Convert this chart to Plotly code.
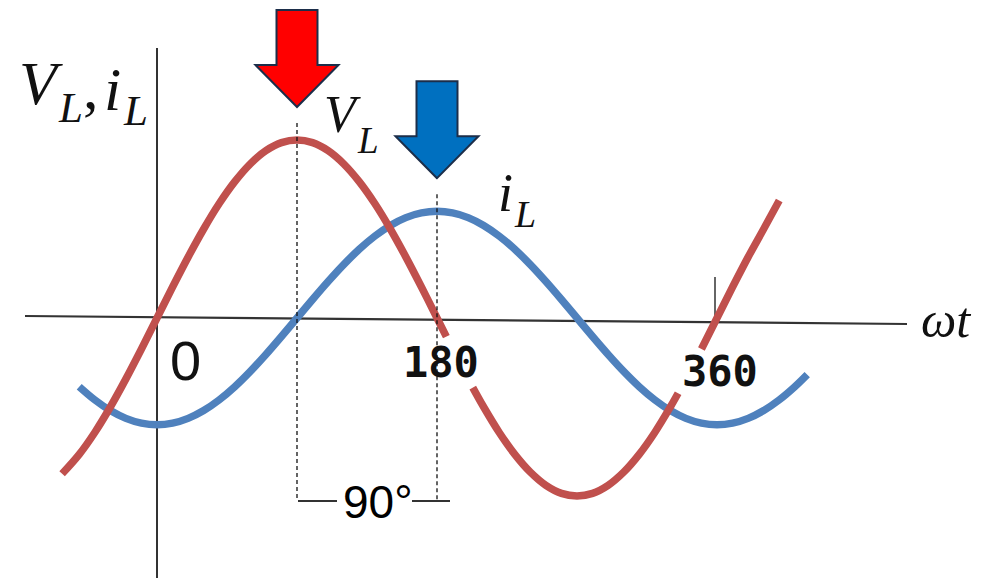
import plotly.graph_objects as go

# Phase angle (degrees) and inductor voltage, normalised to its peak.
# None entries leave gaps where the 180 / 360 labels sit.
theta_v = [-61, -50, -40, -30, -20, -10, 0, 10, 20, 30, 40, 50, 60, 70, 80, 90,
           100, 110, 120, 130, 140, 150, 160, 170, 180, 186, None,
           203, 210, 220, 230, 240, 250, 260, 270, 280, 290, 300, 310, 320, 330, 335, None,
           350, 360, 370, 380, 390, 400]
v_l = [-0.875, -0.766, -0.643, -0.500, -0.342, -0.174, 0.000, 0.174, 0.342, 0.500, 0.643, 0.766, 0.866, 0.940, 0.985, 1.000,
       0.985, 0.940, 0.866, 0.766, 0.643, 0.500, 0.342, 0.174, 0.000, -0.105, None,
       -0.391, -0.500, -0.643, -0.766, -0.866, -0.940, -0.985, -1.000, -0.985, -0.940, -0.866, -0.766, -0.643, -0.500, -0.423, None,
       -0.174, 0.000, 0.174, 0.342, 0.500, 0.660]

# Phase angle (degrees) and inductor current on the same scale
theta_i = [-50, -40, -30, -20, -10, 0, 10, 20, 30, 40, 50, 60, 70, 80, 90,
           100, 110, 120, 130, 140, 150, 160, 170, 180, 190, 200, 210, 220, 230, 240,
           250, 260, 270, 280, 290, 300, 310, 320, 330, 340, 350, 360,
           370, 380, 390, 400, 410, 418]
i_l = [-0.386, -0.460, -0.520, -0.564, -0.591, -0.600, -0.591, -0.564, -0.520, -0.460, -0.386, -0.300, -0.205, -0.104, 0.000,
       0.104, 0.205, 0.300, 0.386, 0.460, 0.520, 0.564, 0.591, 0.600, 0.591, 0.564, 0.520, 0.460, 0.386, 0.300,
       0.205, 0.104, 0.000, -0.104, -0.205, -0.300, -0.386, -0.460, -0.520, -0.564, -0.591, -0.600,
       -0.591, -0.564, -0.520, -0.460, -0.386, -0.318]

angle_ticks = ["0", "180", "360"]
phase_label = "90°"

W, H = 984, 580
ORIGIN = (157, 318)          # pixel position of (0°, 0)
PX_PER_DEG = 280 / 180
PX_PER_UNIT = 178

RED = "#C0504D"
BLUE = "#4F81BD"
INK = "#111111"


def dx(px):
    return px / PX_PER_DEG


def dy(px):
    return px / PX_PER_UNIT


def at(px, py):
    """Pixel position on the page -> data coordinates."""
    return (px - ORIGIN[0]) / PX_PER_DEG, (ORIGIN[1] - py) / PX_PER_UNIT


fig = go.Figure()
fig.add_trace(go.Scatter(x=theta_i, y=i_l, mode="lines", connectgaps=False,
                         line=dict(color=BLUE, width=7.5, shape="spline", smoothing=1.0),
                         hoverinfo="skip"))
fig.add_trace(go.Scatter(x=theta_v, y=v_l, mode="lines", connectgaps=False,
                         line=dict(color=RED, width=7.5, shape="spline", smoothing=1.0),
                         hoverinfo="skip"))

shapes = []

# Axes
x_a, y_a = at(25, 316)
x_b, y_b = at(907, 324)
shapes.append(dict(type="line", x0=x_a, y0=y_a, x1=x_b, y1=y_b,
                   line=dict(color="#333333", width=2.2), layer="below"))
x_c, y_c = at(157, 48)
x_d, y_d = at(157, 578)
shapes.append(dict(type="line", x0=x_c, y0=y_c, x1=x_d, y1=y_d,
                   line=dict(color="#333333", width=2), layer="below"))
# tick mark at 360
tx0, ty0 = at(715, 277)
tx1, ty1 = at(715, 320)
shapes.append(dict(type="line", x0=tx0, y0=ty0, x1=tx1, y1=ty1,
                   line=dict(color="#333333", width=1.5), layer="below"))

# Peaks of the two waveforms
vv = [(t, v) for t, v in zip(theta_v, v_l) if v is not None]
iv = [(t, v) for t, v in zip(theta_i, i_l) if v is not None]
v_peak = max(vv, key=lambda p: p[1])
i_peak = max(iv, key=lambda p: p[1])

bracket_y = at(0, 501)[1]
GAP = 33          # arrow tip clearance above a peak, px
SHAFT = 20.5
HEAD = 41.5
HEAD_LEN = 42
LENGTH = 97


def down_arrow(tip_x, tip_y, fill):
    pts = [(0, 0), (-HEAD, HEAD_LEN), (-SHAFT, HEAD_LEN), (-SHAFT, LENGTH),
           (SHAFT, LENGTH), (SHAFT, HEAD_LEN), (HEAD, HEAD_LEN)]
    path = "M " + " L ".join(f"{tip_x + dx(px):.4f},{tip_y + dy(py):.4f}" for px, py in pts) + " Z"
    return dict(type="path", path=path, fillcolor=fill,
                line=dict(color="#1C2E4A", width=2))


for (pt, pv), fill in ((v_peak, "#FF0000"), (i_peak, "#0070C0")):
    tip_y = pv + dy(GAP)
    shapes.append(down_arrow(pt, tip_y, fill))
    shapes.append(dict(type="line", x0=pt, x1=pt, y0=tip_y - dy(16), y1=bracket_y,
                       line=dict(color=INK, width=1.3, dash="4px,3px")))

# 90° bracket
for a, b in ((298, 337), (412, 450)):
    xa, yb = at(a, 501)
    xb, _ = at(b, 501)
    shapes.append(dict(type="line", x0=xa, x1=xb, y0=yb, y1=yb,
                       line=dict(color="#333333", width=1.8)))

annotations = []


def label(text, px, py, size, family, color=INK, italic=False, bold=False, xanchor="center"):
    x, y = at(px, py)
    annotations.append(dict(x=x, y=y, text=text, borderpad=0,
                            showarrow=False, xanchor=xanchor, yanchor="middle",
                            font=dict(family=family, size=size, color=color,
                                      style="italic" if italic else "normal",
                                      weight="bold" if bold else "normal")))


SERIF = "Liberation Serif"
# V_L , i_L  axis title (symbol and subscript set as neighbouring labels)
label("V", 18, 83, 62, SERIF, italic=True, xanchor="left")
label("L", 57, 107, 43, SERIF, italic=True, xanchor="left")
label(",", 82, 87, 62, SERIF, xanchor="left")
label("i", 103, 89, 62, SERIF, italic=True, xanchor="left")
label("L", 122, 110, 43, SERIF, italic=True, xanchor="left")
# V_L curve label
label("V", 323, 114, 52, SERIF, italic=True, xanchor="left")
label("L", 356, 140, 37, SERIF, italic=True, xanchor="left")
# i_L curve label
label("i", 497, 193, 54, SERIF, italic=True, xanchor="left")
label("L", 513, 214, 38, SERIF, italic=True, xanchor="left")
# ωt
label("ωt", 946, 320, 50, SERIF, italic=True)

# angle tick labels
label(angle_ticks[0], 185, 360, 56, "Liberation Sans")
label(angle_ticks[1], 441, 362, 42, "DejaVu Sans Mono, monospace", bold=True)
label(angle_ticks[2], 720, 371, 42, "DejaVu Sans Mono, monospace", bold=True)

# phase difference
label(phase_label, 378, 502, 46, "Liberation Sans", color="#000000")

fig.update_layout(
    width=W, height=H,
    margin=dict(l=0, r=0, t=0, b=0, pad=0),
    paper_bgcolor="white", plot_bgcolor="white",
    showlegend=False,
    xaxis=dict(range=[at(0, 0)[0], at(W, 0)[0]], visible=False, fixedrange=True),
    yaxis=dict(range=[at(0, H)[1], at(0, 0)[1]], visible=False, fixedrange=True),
    shapes=shapes,
    annotations=annotations,
)

fig.write_html("out.html")
